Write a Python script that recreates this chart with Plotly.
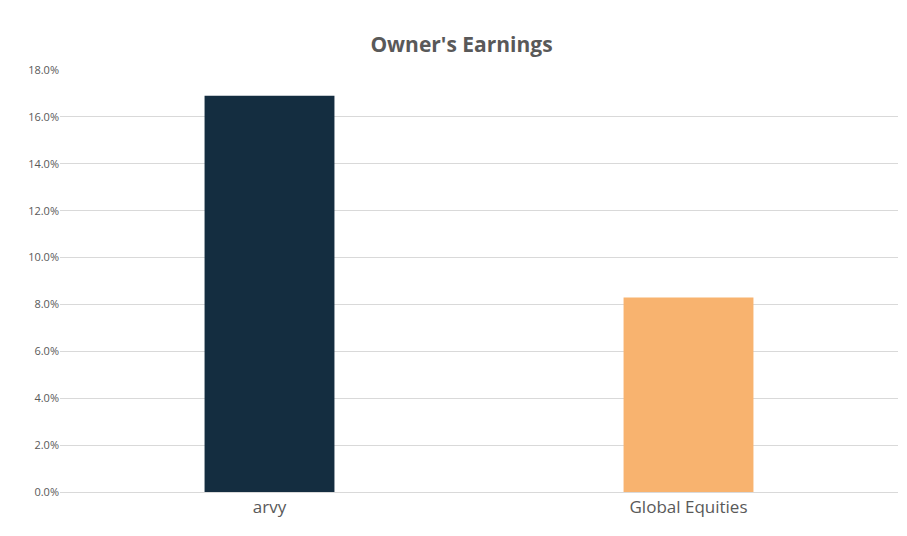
import plotly.graph_objects as go

categories = ["arvy", "Global Equities"]
values = [0.169, 0.083]
colors = ["#142D40", "#F8B36F"]

fig = go.Figure(go.Bar(x=categories, y=values, marker_color=colors, width=0.31,
                       marker_line_width=0))
fig.update_layout(
    width=907, height=536,
    margin=dict(l=52, r=17, t=62, b=52),
    paper_bgcolor="white", plot_bgcolor="white",
    title=dict(text="<b>Owner's Earnings</b>", x=0.5, xanchor="center", y=0.945,
               font=dict(family="Open Sans", size=21, color="#595959")),
    showlegend=False,
    font=dict(family="Open Sans", color="#595959"),
)
fig.update_yaxes(range=[0, 0.18], dtick=0.02, tickformat=".1%", showgrid=True,
                 gridcolor="#D9D9D9", gridwidth=1, zeroline=False,
                 tickfont=dict(size=11, color="#595959"), ticks="", showline=False)
fig.update_xaxes(showline=True, linecolor="#D9D9D9", linewidth=1,
                 tickfont=dict(size=17, color="#595959"), ticks="")
fig.write_html("out.html")
